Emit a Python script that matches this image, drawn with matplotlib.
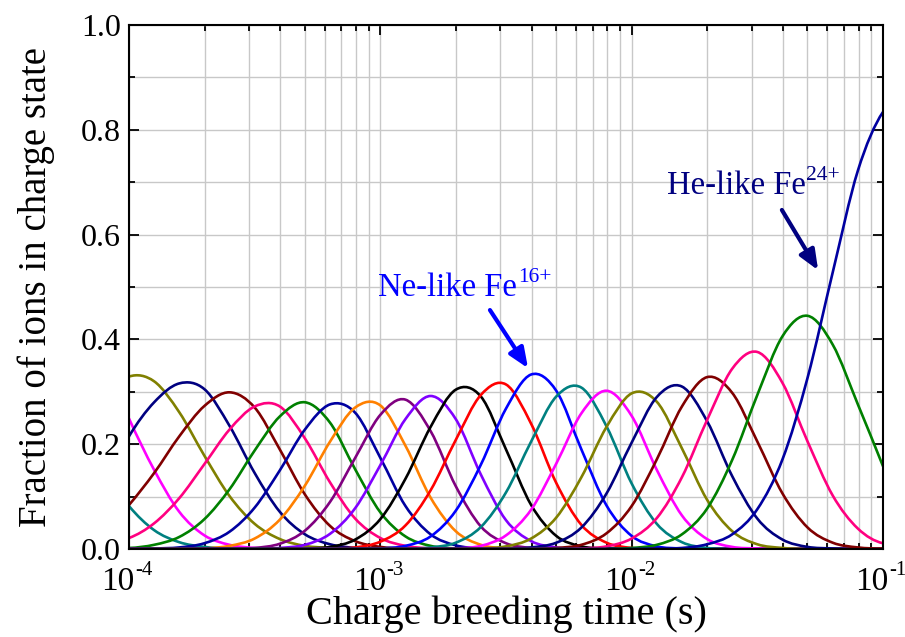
import matplotlib
matplotlib.use("Agg")
import matplotlib.pyplot as plt
from matplotlib.path import Path
from matplotlib.patches import PathPatch
from matplotlib.ticker import MultipleLocator, LogLocator, NullFormatter, FixedLocator
import numpy as np

# ---------------- data ----------------
log10_time = [-4.0, -3.9, -3.8, -3.7, -3.6, -3.5, -3.4, -3.3, -3.2, -3.1,
              -3.0, -2.9, -2.8, -2.7, -2.6, -2.5, -2.4, -2.3, -2.2, -2.1,
              -2.0, -1.9, -1.8, -1.7, -1.6, -1.5, -1.4, -1.3, -1.2, -1.1, -1.0]

q_a = [0.082, 0.036, 0.013, 0.004, 0.001, 0, 0, 0, 0, 0, 0, 0, 0, 0, 0, 0,
       0, 0, 0, 0, 0, 0, 0, 0, 0, 0, 0, 0, 0, 0, 0]
q_b = [0.249, 0.151, 0.071, 0.026, 0.008, 0.002, 0, 0, 0, 0, 0, 0, 0, 0, 0, 0,
       0, 0, 0, 0, 0, 0, 0, 0, 0, 0, 0, 0, 0, 0, 0]
q_c = [0.329, 0.320, 0.261, 0.178, 0.101, 0.048, 0.019, 0.006, 0.002, 0, 0, 0,
       0, 0, 0, 0, 0, 0, 0, 0, 0, 0, 0, 0, 0, 0, 0, 0, 0, 0, 0]
q_d = [0.215, 0.280, 0.316, 0.305, 0.235, 0.145, 0.071, 0.028, 0.009, 0.002, 0,
       0, 0, 0, 0, 0, 0, 0, 0, 0, 0, 0, 0, 0, 0, 0, 0, 0, 0, 0, 0]
q_e = [0.084, 0.145, 0.215, 0.273, 0.299, 0.270, 0.190, 0.104, 0.044, 0.015,
       0.004, 0.001, 0, 0, 0, 0, 0, 0, 0, 0, 0, 0, 0, 0, 0, 0, 0, 0, 0, 0, 0]
q_f = [0.021, 0.049, 0.097, 0.162, 0.228, 0.272, 0.272, 0.211, 0.127, 0.058,
       0.021, 0.006, 0.001, 0, 0, 0, 0, 0, 0, 0, 0, 0, 0, 0, 0, 0, 0, 0, 0, 0, 0]
q_g = [0.002, 0.008, 0.023, 0.057, 0.114, 0.188, 0.253, 0.280, 0.241, 0.152,
       0.070, 0.024, 0.006, 0.001, 0, 0, 0, 0, 0, 0, 0, 0, 0, 0, 0, 0, 0, 0, 0, 0, 0]
q_h = [0, 0.001, 0.003, 0.011, 0.033, 0.079, 0.150, 0.228, 0.276, 0.260,
       0.174, 0.082, 0.028, 0.007, 0.001, 0, 0, 0, 0, 0, 0, 0, 0, 0, 0, 0, 0, 0, 0, 0, 0]
q_i = [0, 0, 0, 0.001, 0.006, 0.020, 0.056, 0.121, 0.205, 0.270,
       0.274, 0.197, 0.098, 0.034, 0.008, 0.001, 0, 0, 0, 0, 0, 0, 0, 0, 0, 0, 0, 0, 0, 0, 0]
q_j = [0, 0, 0, 0, 0, 0.002, 0.010, 0.035, 0.090, 0.174,
       0.256, 0.285, 0.225, 0.120, 0.043, 0.011, 0.002, 0, 0, 0, 0, 0, 0, 0, 0, 0, 0, 0, 0, 0, 0]
q_k = [0, 0, 0, 0, 0, 0, 0.002, 0.008, 0.029, 0.078,
       0.160, 0.248, 0.292, 0.248, 0.142, 0.055, 0.015, 0.003, 0, 0, 0, 0, 0, 0, 0, 0, 0, 0, 0, 0, 0]
q_l = [0, 0, 0, 0, 0, 0, 0, 0.001, 0.004, 0.018,
       0.057, 0.134, 0.233, 0.304, 0.291, 0.190, 0.084, 0.025, 0.005, 0.001,
       0, 0, 0, 0, 0, 0, 0, 0, 0, 0, 0]
q_m = [0, 0, 0, 0, 0, 0, 0, 0, 0.001, 0.003,
       0.014, 0.045, 0.112, 0.208, 0.294, 0.314, 0.239, 0.126, 0.046, 0.012,
       0.002, 0, 0, 0, 0, 0, 0, 0, 0, 0, 0]
q_n = [0, 0, 0, 0, 0, 0, 0, 0, 0, 0,
       0.001, 0.006, 0.024, 0.073, 0.161, 0.268, 0.333, 0.302, 0.190, 0.083,
       0.025, 0.005, 0.001, 0, 0, 0, 0, 0, 0, 0, 0]
q_o = [0, 0, 0, 0, 0, 0, 0, 0, 0, 0,
       0, 0, 0.003, 0.012, 0.042, 0.108, 0.205, 0.291, 0.308, 0.234,
       0.125, 0.048, 0.013, 0.002, 0, 0, 0, 0, 0, 0, 0]
q_p = [0, 0, 0, 0, 0, 0, 0, 0, 0, 0,
       0, 0, 0, 0.001, 0.006, 0.026, 0.075, 0.163, 0.259, 0.302,
       0.254, 0.151, 0.064, 0.019, 0.004, 0.001, 0, 0, 0, 0, 0]
q_q = [0, 0, 0, 0, 0, 0, 0, 0, 0, 0,
       0, 0, 0, 0, 0.001, 0.005, 0.020, 0.060, 0.137, 0.233,
       0.297, 0.281, 0.192, 0.094, 0.034, 0.009, 0.002, 0, 0, 0, 0]
q_r = [0, 0, 0, 0, 0, 0, 0, 0, 0, 0,
       0, 0, 0, 0, 0, 0, 0.003, 0.012, 0.041, 0.106,
       0.203, 0.290, 0.310, 0.244, 0.139, 0.058, 0.018, 0.004, 0.001, 0, 0]
q_s = [0, 0, 0, 0, 0, 0, 0, 0, 0, 0,
       0, 0, 0, 0, 0, 0, 0, 0.002, 0.008, 0.030,
       0.082, 0.171, 0.272, 0.328, 0.298, 0.205, 0.106, 0.041, 0.012, 0.003, 0.001]
q_t = [0, 0, 0, 0, 0, 0, 0, 0, 0, 0,
       0, 0, 0, 0, 0, 0, 0, 0, 0.001, 0.005,
       0.020, 0.059, 0.137, 0.246, 0.344, 0.376, 0.317, 0.205, 0.102, 0.039, 0.011]
q_u = [0, 0, 0, 0, 0, 0, 0, 0, 0, 0,
       0, 0, 0, 0, 0, 0, 0, 0, 0, 0,
       0.002, 0.008, 0.028, 0.077, 0.170, 0.294, 0.406, 0.445, 0.390, 0.276, 0.158]
q_v = [0, 0, 0, 0, 0, 0, 0, 0, 0, 0,
       0, 0, 0, 0, 0, 0, 0, 0, 0, 0,
       0, 0.001, 0.002, 0.009, 0.028, 0.076, 0.171, 0.327, 0.528, 0.722, 0.834]

series = [q_a, q_b, q_c, q_d, q_e, q_f, q_g, q_h, q_i, q_j, q_k,
          q_l, q_m, q_n, q_o, q_p, q_q, q_r, q_s, q_t, q_u, q_v]
colors = ["#008080", "#FF00FF", "#808000", "#000080", "#800000", "#FF0080",
          "#008000", "#0000A0", "#FF8000", "#800080", "#8000FF", "#000000",
          "#FF0000", "#0000FF", "#008080", "#FF00FF", "#808000", "#000080",
          "#800000", "#FF0080", "#008000", "#0000A0"]

x_ticks = [1e-4, 1e-3, 1e-2, 1e-1]
x_tick_exponents = ["-4", "-3", "-2", "-1"]
y_ticks = [0.0, 0.2, 0.4, 0.6, 0.8, 1.0]

# ---------------- style ----------------
plt.rcParams["font.family"] = ["Liberation Serif", "DejaVu Serif"]

fig = plt.figure(figsize=(9.05, 6.37), dpi=100)
ax = fig.add_axes([129 / 905, (637 - 549) / 637, (883 - 129) / 905, (549 - 25) / 637])
ax.set_xscale("log")
ax.set_xlim(x_ticks[0], x_ticks[-1])
ax.set_ylim(y_ticks[0], y_ticks[-1])


def smooth_patch(lx, ly, color):
    P = np.column_stack([lx, ly]).astype(float)
    n = len(P)
    ghost_start = 3 * P[0] - 3 * P[1] + P[2]
    ghost_end = 3 * P[-1] - 3 * P[-2] + P[-3]
    Q = np.vstack([ghost_start, P, ghost_end])
    verts = [P[0]]
    codes = [Path.MOVETO]
    for i in range(1, n):
        p0, p1, p2, p3 = Q[i - 1], Q[i], Q[i + 1], Q[i + 2]
        verts += [p1 + (p2 - p0) / 6.0, p2 - (p3 - p1) / 6.0, p2]
        codes += [Path.CURVE4] * 3
    V = np.array(verts)
    V[:, 0] = 10.0 ** V[:, 0]
    return PathPatch(Path(V, codes), fill=False, edgecolor=color, lw=1.9,
                     transform=ax.transData, capstyle="round", joinstyle="round")


for vals, col in zip(series, colors):
    ax.add_patch(smooth_patch(log10_time, vals, col))

# ticks & grid
ax.set_axisbelow(True)
ax.yaxis.set_major_locator(FixedLocator(y_ticks))
ax.yaxis.set_minor_locator(MultipleLocator(0.1))
ax.set_yticklabels([f"{v:.1f}" for v in y_ticks])
ax.xaxis.set_major_locator(FixedLocator(x_ticks))
ax.xaxis.set_minor_locator(LogLocator(base=10, subs=np.arange(2, 10), numticks=20))
ax.xaxis.set_minor_formatter(NullFormatter())
ax.set_xticklabels(["" for _ in x_ticks])
ax.grid(True, which="both", color="#c8c8c8", lw=1.0)

for sp in ax.spines.values():
    sp.set_linewidth(1.5)

ax.tick_params(which="both", direction="in", top=True, right=True, width=1.3)
ax.tick_params(which="major", length=7)
ax.tick_params(which="minor", length=4)
ax.tick_params(axis="y", labelsize=23, pad=6)

# x tick labels: "10" with a small raised exponent
for xt, ex in zip(x_ticks, x_tick_exponents):
    ax.annotate("10", xy=(xt, 0), xycoords=("data", "axes fraction"),
                xytext=(4, -29.5), textcoords="offset points",
                ha="right", va="baseline", fontsize=24, annotation_clip=False)
    ax.annotate(ex, xy=(xt, 0), xycoords=("data", "axes fraction"),
                xytext=(4.5, -18.5), textcoords="offset points",
                ha="left", va="baseline", fontsize=15, annotation_clip=False)

ax.set_xlabel("Charge breeding time (s)", fontsize=29, va="top")
ax.xaxis.set_label_coords(0.5, -0.088)
ax.set_ylabel("Fraction of ions in charge state", fontsize=28)
ax.yaxis.set_label_coords(-0.098, 0.5)

# annotations
fig.canvas.draw()
renderer = fig.canvas.get_renderer()


def label_with_sup(x, y, main, sup, color):
    t = ax.text(x, y, main, color=color, fontsize=23.5, ha="left", va="baseline")
    bb = t.get_window_extent(renderer=renderer)
    ax.annotate(sup, xy=(x, y), xycoords="data",
                xytext=(bb.width * 72.0 / fig.dpi + 0.5, 10),
                textcoords="offset points", color=color, fontsize=15.5,
                ha="left", va="baseline")


label_with_sup(9.8e-4, 0.483, "Ne-like Fe", "16+", "#0000FF")
ax.annotate("", xy=(3.87e-3, 0.345), xytext=(2.73e-3, 0.456),
            arrowprops=dict(arrowstyle="-|>,head_length=1.2,head_width=0.5",
                            color="#0000FF", lw=3, shrinkA=0, shrinkB=0))
label_with_sup(1.38e-2, 0.677, "He-like Fe", "24+", "#000080")
ax.annotate("", xy=(5.52e-2, 0.532), xytext=(3.96e-2, 0.647),
            arrowprops=dict(arrowstyle="-|>,head_length=1.2,head_width=0.5",
                            color="#000080", lw=3, shrinkA=0, shrinkB=0))

fig.savefig("out.png", dpi=100)
